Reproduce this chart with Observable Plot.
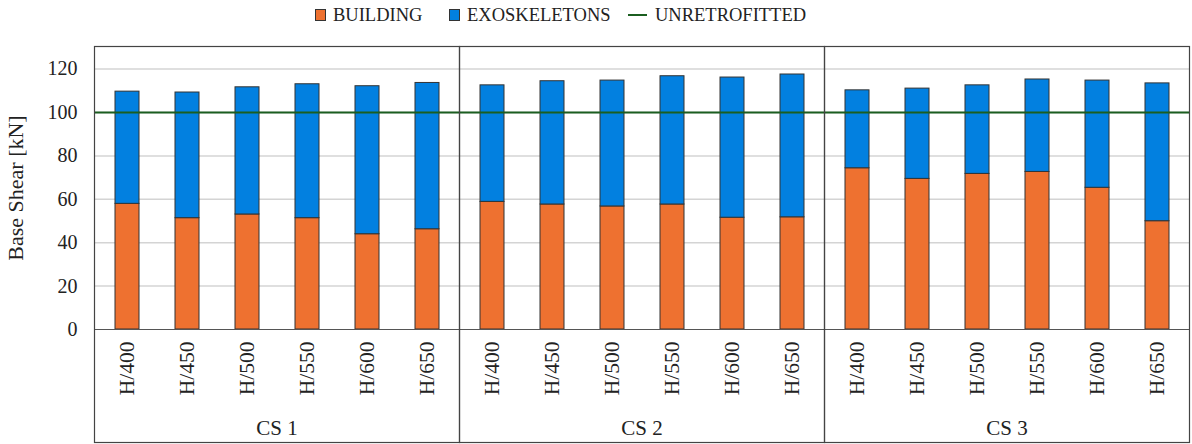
<!DOCTYPE html>
<html>
<head>
<meta charset="utf-8">
<script src="https://cdn.jsdelivr.net/npm/d3@7"></script>
<script src="https://cdn.jsdelivr.net/npm/@observablehq/plot@0.6"></script>
<style>
  html, body { margin: 0; padding: 0; background: white; }
  #legend { position: relative; width: 1192px; height: 30px; font-family: "Liberation Serif", serif; font-size: 18.5px; color: #222; }
  .item { position: absolute; top: 4px; display: flex; align-items: center; height: 22px; white-space: nowrap; }
  .sw { display: inline-block; width: 9px; height: 10px; border: 1px solid #333; margin-right: 7px; }
  .ln { display: inline-block; width: 19px; height: 2.5px; margin-right: 8px; }
</style>
</head>
<body>
<div id="legend"></div>
<div id="chart"></div>
<script>
// ---- data ----
const cases = ["CS 1", "CS 2", "CS 3"];
const hLabels = ["H/400", "H/450", "H/500", "H/550", "H/600", "H/650"];
const seriesNames = ["BUILDING", "EXOSKELETONS"];
const building = {
  "CS 1": [57.9, 51.3, 53.0, 51.3, 43.9, 46.2],
  "CS 2": [58.8, 57.6, 56.7, 57.6, 51.5, 51.7],
  "CS 3": [74.3, 69.4, 71.7, 72.6, 65.3, 49.9]
};
const exoskeletons = {
  "CS 1": [51.7, 57.9, 58.6, 61.7, 68.2, 67.4],
  "CS 2": [53.7, 56.8, 58.0, 59.1, 64.6, 65.8],
  "CS 3": [35.9, 41.6, 40.8, 42.6, 49.4, 63.5]
};
const unretrofitted = [100];
const yTicks = [0, 20, 40, 60, 80, 100, 120];

const colors = { BUILDING: "#ee7130", EXOSKELETONS: "#0280e0", UNRETROFITTED: "#1b5e20" };
const serif = "'Liberation Serif', serif";

// ---- table ----
const rows = [];
for (const cs of cases) {
  hLabels.forEach((h, i) => {
    rows.push({ cs, h, series: "BUILDING", value: building[cs][i] });
    rows.push({ cs, h, series: "EXOSKELETONS", value: exoskeletons[cs][i] });
  });
}

// ---- legend ----
const legend = document.getElementById("legend");
const legendItems = [
  { name: "BUILDING", kind: "sw", left: 315 },
  { name: "EXOSKELETONS", kind: "sw", left: 449 },
  { name: "UNRETROFITTED", kind: "ln", left: 628 }
];
for (const it of legendItems) {
  const d = document.createElement("div");
  d.className = "item";
  d.style.left = it.left + "px";
  const s = document.createElement("span");
  s.className = it.kind;
  s.style.background = colors[it.name];
  const t = document.createElement("span");
  t.textContent = it.name;
  d.appendChild(s); d.appendChild(t);
  legend.appendChild(d);
}

// ---- chart ----
const chart = Plot.plot({
  width: 1192,
  height: 414,
  marginLeft: 94,
  marginRight: 3,
  marginTop: 16,
  marginBottom: 115,
  style: { fontFamily: serif, fontSize: "20px", color: "#222", background: "white" },
  fx: { domain: cases, padding: 0, label: null },
  x: { domain: hLabels, paddingInner: 0.6, paddingOuter: 0.3, label: null },
  y: { domain: [0, 130.4], label: null },
  color: { domain: seriesNames, range: [colors.BUILDING, colors.EXOSKELETONS] },
  marks: [
    Plot.gridY(yTicks.filter(d => d > 0), { stroke: "#d4d4d4", strokeOpacity: 1, strokeWidth: 1.5 }),
    Plot.barY(rows, { fx: "cs", x: "h", y: "value", fill: "series", stroke: "#333", strokeWidth: 1 }),
    Plot.ruleY(unretrofitted, { stroke: colors.UNRETROFITTED, strokeWidth: 2 }),
    Plot.ruleY([0], { stroke: "#555", strokeWidth: 1.2 }),
    Plot.frame({ stroke: "#444", strokeWidth: 1.2, insetBottom: -113 }),
    Plot.axisY(yTicks, { tickSize: 0, tickPadding: 17, fontSize: 20, fontFamily: serif, label: null }),
    Plot.axisY({ ticks: [], tickSize: 0, fontSize: 22, fontFamily: serif, label: "Base Shear [kN]", labelAnchor: "center", labelArrow: "none", labelOffset: 87 }),
    Plot.axisX({ tickRotate: -90, tickSize: 0, tickPadding: 12, fontSize: 21.5, fontFamily: serif, label: null }),
    Plot.axisFx({ anchor: "bottom", tickSize: 0, tickPadding: 91, fontSize: 21, fontFamily: serif, label: null })
  ]
});
document.getElementById("chart").appendChild(chart);
</script>
</body>
</html>
